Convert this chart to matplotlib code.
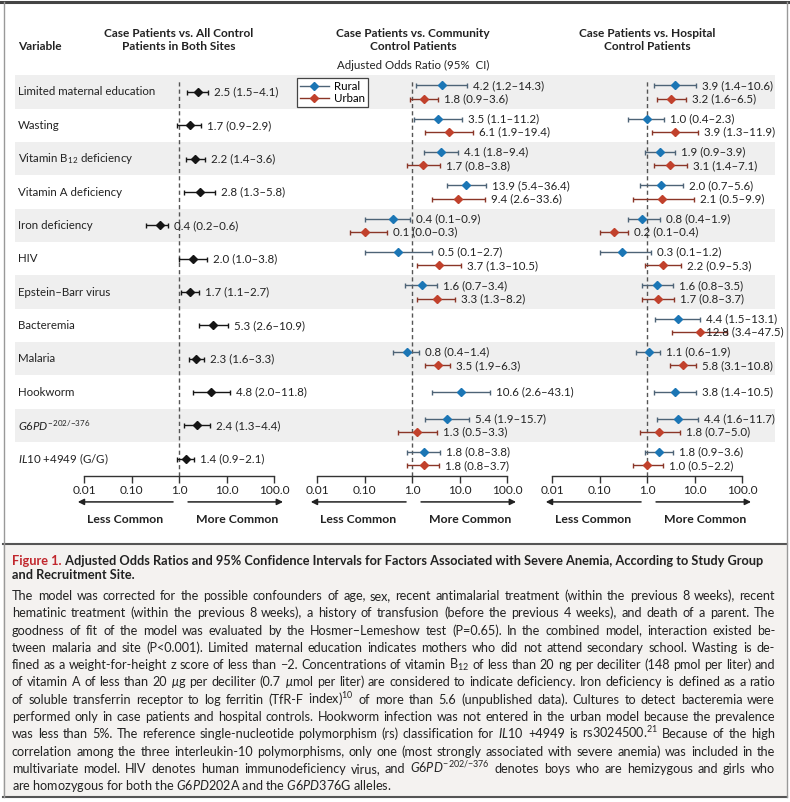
import matplotlib

matplotlib.use("Agg")
import matplotlib.pyplot as plt
import numpy as np
from matplotlib.lines import Line2D
from matplotlib.patches import Rectangle
from matplotlib.ticker import NullLocator

plt.rcParams["font.family"] = ["Lato", "DejaVu Sans"]
plt.rcParams["mathtext.fontset"] = "custom"
plt.rcParams["mathtext.rm"] = "Lato"
plt.rcParams["mathtext.it"] = "Lato:italic"
plt.rcParams["mathtext.bf"] = "Lato:bold"

nan = np.nan

variables = [
    "Limited maternal education",
    "Wasting",
    "Vitamin B$_{12}$ deficiency",
    "Vitamin A deficiency",
    "Iron deficiency",
    "HIV",
    "Epstein\u2013Barr virus",
    "Bacteremia",
    "Malaria",
    "Hookworm",
    r"$\mathit{G6PD}^{{-}202/{-}376}$",
    r"$\mathit{IL10}$ +4949 (G/G)",
]

# Case patients vs. all control patients in both sites
all_or = [2.5, 1.7, 2.2, 2.8, 0.4, 2.0, 1.7, 5.3, 2.3, 4.8, 2.4, 1.4]
all_lo = [1.5, 0.9, 1.4, 1.3, 0.2, 1.0, 1.1, 2.6, 1.6, 2.0, 1.3, 0.9]
all_hi = [4.1, 2.9, 3.6, 5.8, 0.6, 3.8, 2.7, 10.9, 3.3, 11.8, 4.4, 2.1]

# Case patients vs. community control patients
com_rural_or = [4.2, 3.5, 4.1, 13.9, 0.4, 0.5, 1.6, nan, 0.8, 10.6, 5.4, 1.8]
com_rural_lo = [1.2, 1.1, 1.8, 5.4, 0.1, 0.1, 0.7, nan, 0.4, 2.6, 1.9, 0.8]
com_rural_hi = [14.3, 11.2, 9.4, 36.4, 0.9, 2.7, 3.4, nan, 1.4, 43.1, 15.7, 3.8]
com_urban_or = [1.8, 6.1, 1.7, 9.4, 0.1, 3.7, 3.3, nan, 3.5, nan, 1.3, 1.8]
com_urban_lo = [0.9, 1.9, 0.8, 2.6, 0.0, 1.3, 1.3, nan, 1.9, nan, 0.5, 0.8]
com_urban_hi = [3.6, 19.4, 3.8, 33.6, 0.3, 10.5, 8.2, nan, 6.3, nan, 3.3, 3.7]

# Case patients vs. hospital control patients
hos_rural_or = [3.9, 1.0, 1.9, 2.0, 0.8, 0.3, 1.6, 4.4, 1.1, 3.8, 4.4, 1.8]
hos_rural_lo = [1.4, 0.4, 0.9, 0.7, 0.4, 0.1, 0.8, 1.5, 0.6, 1.4, 1.6, 0.9]
hos_rural_hi = [10.6, 2.3, 3.9, 5.6, 1.9, 1.2, 3.5, 13.1, 1.9, 10.5, 11.7, 3.6]
hos_urban_or = [3.2, 3.9, 3.1, 2.1, 0.2, 2.2, 1.7, 12.8, 5.8, nan, 1.8, 1.0]
hos_urban_lo = [1.6, 1.3, 1.4, 0.5, 0.1, 0.9, 0.8, 3.4, 3.1, nan, 0.7, 0.5]
hos_urban_hi = [6.5, 11.9, 7.1, 9.9, 0.4, 5.3, 3.7, 47.5, 10.8, nan, 5.0, 2.2]

ticks = [0.01, 0.1, 1.0, 10.0, 100.0]
tick_labels = ["0.01", "0.10", "1.0", "10.0", "100.0"]

panel_titles = [
    "Case Patients vs. All Control\nPatients in Both Sites",
    "Case Patients vs. Community\nControl Patients",
    "Case Patients vs. Hospital\nControl Patients",
]

caption_title_1 = "Adjusted Odds Ratios and 95% Confidence Intervals for Factors Associated with Severe Anemia, According to Study Group"
caption_title_2 = "and Recruitment Site."
caption_lines = [
    "The model was corrected for the possible confounders of age, sex, recent antimalarial treatment (within the previous 8 weeks), recent",
    "hematinic treatment (within the previous 8 weeks), a history of transfusion (before the previous 4 weeks), and death of a parent. The",
    "goodness of fit of the model was evaluated by the Hosmer\u2013Lemeshow test (P=0.65). In the combined model, interaction existed be-",
    "tween malaria and site (P<0.001). Limited maternal education indicates mothers who did not attend secondary school. Wasting is de-",
    "fined as a weight-for-height z score of less than \u22122. Concentrations of vitamin B$_{12}$ of less than 20 ng per deciliter (148 pmol per liter) and",
    r"of vitamin A of less than 20 $\mu$g per deciliter (0.7 $\mu$mol per liter) are considered to indicate deficiency. Iron deficiency is defined as a ratio",
    "of soluble transferrin receptor to log ferritin (TfR-F index)$^{10}$ of more than 5.6 (unpublished data). Cultures to detect bacteremia were",
    "performed only in case patients and hospital controls. Hookworm infection was not entered in the urban model because the prevalence",
    r"was less than 5%. The reference single-nucleotide polymorphism (rs) classification for $\mathit{IL10}$ +4949 is rs3024500.$^{21}$ Because of the high",
    "correlation among the three interleukin-10 polymorphisms, only one (most strongly associated with severe anemia) was included in the",
    r"multivariate model. HIV denotes human immunodeficiency virus, and $\mathit{G6PD}^{{-}202/{-}376}$ denotes boys who are hemizygous and girls who",
    r"are homozygous for both the $\mathit{G6PD}$202A and the $\mathit{G6PD}$376G alleles.",
]

W, H = 790, 802
RURAL = "#1b76b5"
RURAL_LINE = "#4d6376"
URBAN = "#c1412c"
URBAN_LINE = "#8a3527"
BLACK = "#151515"
TEXT = "#222222"
STRIPE = "#efefef"
LO_FLOOR = 0.05          # plotted lower end for a 0.0 bound on the log axis
LABEL_GAP = 10 ** (6 / 47.5)
N = len(variables)

fig = plt.figure(figsize=(W / 100, H / 100), dpi=100)


def px_axes(left, top, width, height, **kw):
    return fig.add_axes([left / W, 1 - (top + height) / H, width / W, height / H], **kw)


# background in pixel coordinates
bg = px_axes(0, 0, W, H, zorder=0)
bg.set_xlim(0, W)
bg.set_ylim(H, 0)
bg.axis("off")

bg.add_patch(Rectangle((3, 544), 784, 253, facecolor="#f4f2f0", edgecolor="none"))
bg.plot([0, W], [2, 2], color="#444444", lw=2.2)
bg.plot([3, W - 3], [544, 544], color="#555555", lw=1.5)
bg.plot([3, W - 3], [797, 797], color="#555555", lw=1.5)
bg.plot([3.5, 3.5], [2, 797], color="#999999", lw=1)
bg.plot([W - 3.5, W - 3.5], [2, 797], color="#999999", lw=1)

ROW_TOP, ROW_H = 75.3, 400.2

# row stripes and variable names
rows = px_axes(15, ROW_TOP, 760, ROW_H, zorder=1)
rows.set_xlim(15, 775)
rows.set_ylim(N - 0.5, -0.5)
rows.axis("off")
for i, name in enumerate(variables):
    if i % 2 == 0:
        rows.axhspan(i - 0.5, i + 0.5, color=STRIPE, lw=0)
    rows.text(18, i, name, ha="left", va="center", fontsize=8.3, color=TEXT)

bg.text(18, 46, "Variable", ha="left", va="center", fontsize=8.6,
        fontweight="bold", color=TEXT)

panel_left = [84, 317, 552]
panel_center = [179, 413, 647]
panel_cap = [None, None, 17.5]

panels = [
    [(all_or, all_lo, all_hi, BLACK, BLACK)],
    [(com_rural_or, com_rural_lo, com_rural_hi, RURAL, RURAL_LINE),
     (com_urban_or, com_urban_lo, com_urban_hi, URBAN, URBAN_LINE)],
    [(hos_rural_or, hos_rural_lo, hos_rural_hi, RURAL, RURAL_LINE),
     (hos_urban_or, hos_urban_lo, hos_urban_hi, URBAN, URBAN_LINE)],
]

for p, series in enumerate(panels):
    ax = px_axes(panel_left[p], ROW_TOP, 190, ROW_H, zorder=2)
    ax.patch.set_alpha(0)
    ax.set_xscale("log")
    ax.set_xlim(0.01, 100)
    ax.set_ylim(N - 0.5, -0.5)
    ax.set_xticks(ticks)
    ax.set_xticklabels(tick_labels)
    ax.xaxis.set_minor_locator(NullLocator())
    ax.set_yticks([])
    for s in ("left", "right", "top"):
        ax.spines[s].set_visible(False)
    ax.spines["bottom"].set_color("#333333")
    ax.spines["bottom"].set_linewidth(1)
    ax.tick_params(axis="x", direction="out", length=5, width=1, color="#333333",
                   pad=2, labelsize=8.6, labelcolor=TEXT)
    ax.axvline(1, ymax=0.99, color="#555555", lw=1, ls=(0, (3, 2.2)), zorder=1)

    # which rows have a second (urban) estimate
    has_two = np.zeros(N, dtype=bool)
    if len(series) == 2:
        has_two = ~np.isnan(np.array(series[0][0])) & ~np.isnan(np.array(series[1][0]))

    for k, (odds, lo, hi, mc, lc) in enumerate(series):
        odds, lo, hi = np.array(odds), np.array(lo), np.array(hi)
        ok = ~np.isnan(odds)
        shift = (-0.2 if k == 0 else 0.2) if len(series) == 2 else 0.0
        y = np.arange(N) + np.where(has_two, shift, 0.0)
        lo_plot = np.maximum(lo, LO_FLOOR)
        ms = 4.4 if len(series) == 1 else 4.0
        ax.errorbar(odds[ok], y[ok], xerr=[odds[ok] - lo_plot[ok], hi[ok] - odds[ok]],
                    fmt="D", ms=ms, mfc=mc, mec=mc, ecolor=lc, elinewidth=1,
                    capsize=1.8, capthick=1, zorder=3)
        for i in np.where(ok)[0]:
            lx = hi[i] * LABEL_GAP
            if panel_cap[p] is not None:
                lx = min(lx, panel_cap[p])
            ax.text(lx, y[i], f"{odds[i]:.1f} ({lo[i]:.1f}\u2013{hi[i]:.1f})",
                    ha="left", va="center", fontsize=8.3, color=TEXT,
                    clip_on=False, zorder=4)

    # direction arrows under the axis
    xt = ax.get_xaxis_transform()
    ax.annotate("", xy=(0.0074, -0.066), xytext=(0.75, -0.066), xycoords=xt,
                annotation_clip=False,
                arrowprops=dict(arrowstyle="-|>", color="#222222", lw=1.1,
                                mutation_scale=9, shrinkA=0, shrinkB=0))
    ax.annotate("", xy=(155, -0.066), xytext=(1.55, -0.066), xycoords=xt,
                annotation_clip=False,
                arrowprops=dict(arrowstyle="-|>", color="#222222", lw=1.1,
                                mutation_scale=9, shrinkA=0, shrinkB=0))
    ax.text(0.073, -0.111, "Less Common", transform=xt, ha="center", va="center",
            fontsize=8.8, fontweight="bold", color=TEXT)
    ax.text(16.6, -0.111, "More Common", transform=xt, ha="center", va="center",
            fontsize=8.8, fontweight="bold", color=TEXT)

    bg.text(panel_center[p], 40, panel_titles[p], ha="center", va="center",
            fontsize=8.6, fontweight="bold", color=TEXT, linespacing=1.15)

bg.text(413, 65, "Adjusted Odds Ratio (95%  CI)", ha="center", va="center",
        fontsize=8.3, color=TEXT)

legend_handles = [
    Line2D([], [], color=RURAL_LINE, lw=1, marker="D", ms=4.0, mfc=RURAL, mec=RURAL),
    Line2D([], [], color=URBAN_LINE, lw=1, marker="D", ms=4.0, mfc=URBAN, mec=URBAN),
]
leg = fig.legend(legend_handles, ["Rural", "Urban"], loc="upper left",
                 bbox_to_anchor=(297 / W, 1 - 78 / H), frameon=True, fancybox=False,
                 edgecolor="#444444", framealpha=1, fontsize=8.3, borderpad=0.25,
                 handlelength=2.5, handletextpad=0.5, labelspacing=0.1,
                 borderaxespad=0)
leg.get_frame().set_linewidth(0.9)

# caption
t1 = bg.text(12, 561, "Figure 1.", ha="left", va="center", fontsize=9.2,
             fontweight="bold", color="#c1272d")
bg.annotate(" " + caption_title_1, xy=(1, 0.5), xycoords=t1, ha="left", va="center",
            fontsize=9.2, fontweight="bold", color=TEXT)
bg.text(12, 575, caption_title_2, ha="left", va="center", fontsize=9.2,
        fontweight="bold", color=TEXT)

# body text is justified between x=12 and x=775, like the printed caption
fig.canvas.draw()
renderer = fig.canvas.get_renderer()
for k, line in enumerate(caption_lines):
    y = 600 + 17.3 * k
    if k == len(caption_lines) - 1:
        bg.text(12, y, line, ha="left", va="baseline", fontsize=9.1, color=TEXT)
        continue
    words = line.split(" ")
    pieces = [bg.text(0, y, w, ha="left", va="baseline", fontsize=9.1, color=TEXT)
              for w in words]
    widths = [t.get_window_extent(renderer).width for t in pieces]
    gap = (775 - 12 - sum(widths)) / (len(words) - 1)
    x = 12
    for t, w in zip(pieces, widths):
        t.set_x(x)
        x += w + gap

fig.savefig("out.png", dpi=100)
